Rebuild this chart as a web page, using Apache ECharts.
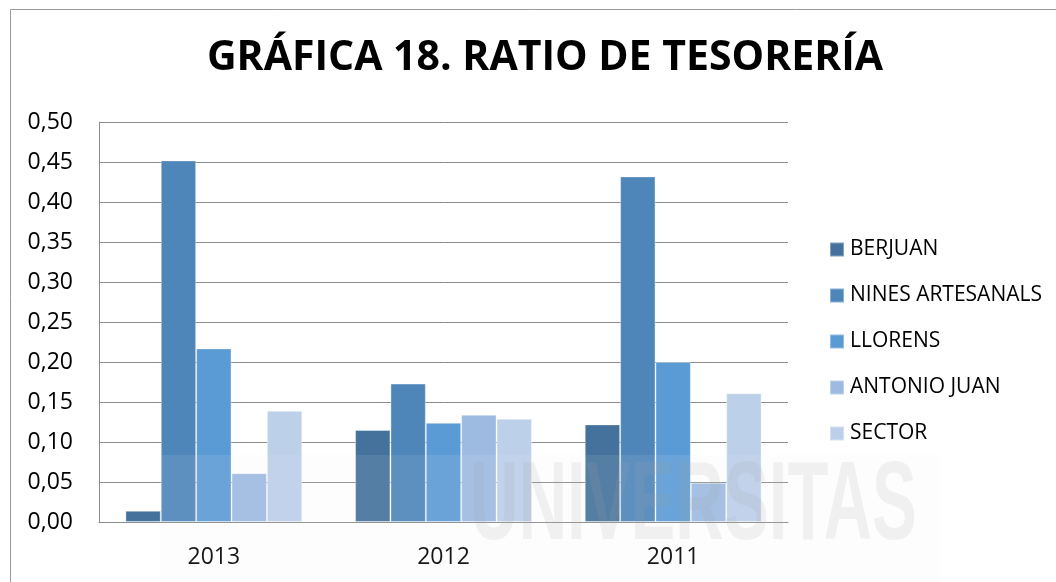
<!DOCTYPE html>
<html>
<head>
<meta charset="utf-8">
<script src="https://cdn.jsdelivr.net/npm/echarts@6/dist/echarts.min.js"></script>
<style>
  html, body { margin: 0; padding: 0; background: #fff; }
  #chart { width: 1056px; height: 582px; }
</style>
</head>
<body>
<div id="chart"></div>
<script>
    // datos
    var years = ['2013', '2012', '2011'];
    var berjuan = [0.014, 0.115, 0.122];
    var ninesArtesanals = [0.452, 0.173, 0.432];
    var llorens = [0.217, 0.124, 0.200];
    var antonioJuan = [0.061, 0.134, 0.049];
    var sector = [0.139, 0.129, 0.161];
    var seriesNames = ['BERJUAN', 'NINES ARTESANALS', 'LLORENS', 'ANTONIO JUAN', 'SECTOR'];
    var seriesColors = ['#44729d', '#4f86ba', '#5b9bd5', '#9dbbe1', '#bdd0ea'];

    var chart = echarts.init(document.getElementById('chart'));
    var font = 'Open Sans';

    function makeBar(i, data) {
        return {
            name: seriesNames[i],
            type: 'bar',
            data: data,
            barGap: '0%',
            barCategoryGap: '23%',
            itemStyle: {
                color: seriesColors[i],
                borderColor: 'rgba(255,255,255,0.35)',
                borderWidth: 1
            }
        };
    }

    var option = {
        backgroundColor: '#fff',
        animation: false,
        textStyle: { fontFamily: font, color: '#000' },
        title: {
            text: 'GRÁFICA 18. RATIO DE TESORERÍA',
            left: 540,
            textAlign: 'center',
            top: 33,
            textStyle: { fontFamily: font, fontSize: 41, fontWeight: 'bold', color: '#000' }
        },
        legend: {
            orient: 'vertical',
            left: 829,
            top: 239,
            padding: 0,
            itemWidth: 14,
            itemHeight: 14,
            itemGap: 25,
            icon: 'rect',
            data: seriesNames,
            textStyle: { fontFamily: font, fontSize: 21, color: '#000', padding: [0, 0, 0, 1] }
        },
        grid: { left: 99, top: 122, width: 689, height: 400, containLabel: false },
        xAxis: {
            type: 'category',
            data: years,
            axisLine: { lineStyle: { color: '#8c8c8c', width: 1 } },
            axisTick: { show: false },
            axisLabel: { fontFamily: font, fontSize: 23, color: '#000', margin: 24 }
        },
        yAxis: {
            type: 'value',
            min: 0,
            max: 0.5,
            interval: 0.05,
            axisLine: { show: true, lineStyle: { color: '#8c8c8c' } },
            axisTick: { show: false },
            splitLine: { lineStyle: { color: '#8c8c8c', width: 1 } },
            axisLabel: {
                fontFamily: font, fontSize: 23, color: '#000', margin: 26,
                formatter: function (v) { return v.toFixed(2).replace('.', ','); }
            }
        },
        graphic: [
            {
                type: 'rect',
                shape: { x: 10.5, y: 9.5, width: 1100, height: 700 },
                style: { fill: 'none', stroke: '#9a9a9a', lineWidth: 1 },
                silent: true
            },
            {
                // marca de agua
                type: 'rect',
                z: 100,
                silent: true,
                shape: { x: 160, y: 455, width: 780, height: 130 },
                style: { fill: 'rgba(235,235,235,0.1)' }
            },
            {
                type: 'text',
                x: 470,
                y: 452,
                scaleX: 0.6,
                z: 101,
                silent: true,
                style: {
                    text: 'UNIVERSITAS',
                    font: 'bold 112px "Liberation Sans"',
                    fill: 'rgba(160,160,160,0.14)'
                }
            }
        ],
        series: [
            makeBar(0, berjuan),
            makeBar(1, ninesArtesanals),
            makeBar(2, llorens),
            makeBar(3, antonioJuan),
            makeBar(4, sector)
        ]
    };
    chart.setOption(option);
</script>
</body>
</html>
